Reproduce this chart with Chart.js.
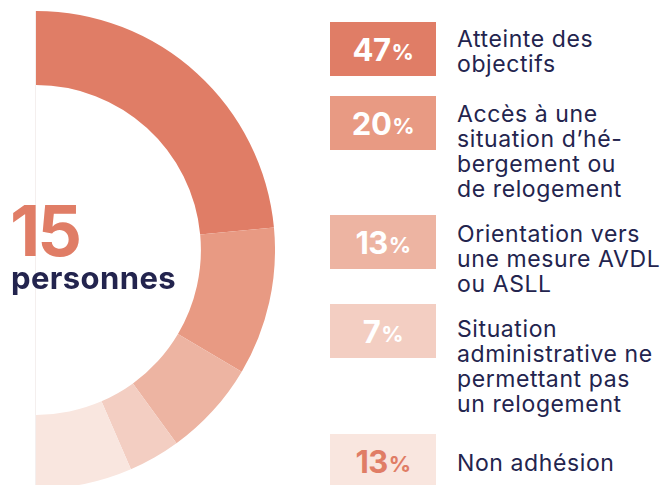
<!DOCTYPE html>
<html lang="fr">
<head>
<meta charset="utf-8">
<script src="https://cdn.jsdelivr.net/npm/chart.js@4"></script>
<style>
    html, body {
        margin: 0;
        padding: 0;
        width: 668px;
        height: 485px;
        overflow: hidden;
        background: #fff;
        font-family: Inter, "Noto Sans", sans-serif;
    }
    #wrap {
        position: absolute;
        left: 36px;
        top: 11px;
        width: 239px;
        height: 478px;
    }
    #axisLine {
        position: absolute;
        left: 35px;
        top: 11px;
        width: 1px;
        height: 474px;
        background: #f4efee;
    }
    #total {
        position: absolute;
        left: 10px;
        top: 196px;
        line-height: 1;
    }
    #total .num {
        display: block;
        font-size: 70px;
        font-weight: 700;
        color: #e07d66;
        letter-spacing: -3px;
    }
    #total .unit {
        display: block;
        margin-top: -4px;
        margin-left: 1px;
        font-size: 31px;
        font-weight: 700;
        color: #23244e;
        letter-spacing: 0.4px;
    }
    .box {
        position: absolute;
        left: 330px;
        width: 106px;
        height: 54px;
        display: flex;
        align-items: center;
        justify-content: center;
        font-weight: 700;
        font-size: 31px;
        letter-spacing: -0.5px;
    }
    .box small {
        font-size: 22px;
        margin-left: 1px;
        margin-top: 5px;
    }
    .label {
        position: absolute;
        left: 457px;
        width: 211px;
        font-size: 23px;
        line-height: 25px;
        color: #23244e;
        letter-spacing: 0.6px;
        white-space: nowrap;
    }
</style>
</head>
<body>
<div id="axisLine"></div>
<div id="wrap"><canvas id="chart"></canvas></div>
<div id="total"><span class="num"></span><span class="unit">personnes</span></div>
<div id="legend"></div>
<script>
    const totalPeople = 15;
    const categories = [
        ["Atteinte des", "objectifs"],
        ["Accès à une", "situation d’hé-", "bergement ou", "de relogement"],
        ["Orientation vers", "une mesure AVDL", "ou ASLL"],
        ["Situation", "administrative ne", "permettant pas", "un relogement"],
        ["Non adhésion"]
    ];
    const shares = [47, 20, 13, 7, 13];
    const colors = ["#e07d66", "#e89a83", "#edb4a2", "#f3cec2", "#f9e6df"];
    const boxTextColors = ["#fff", "#fff", "#fff", "#fff", "#e07d66"];

    // legend layout
    const boxTops = [22, 96, 215, 304, 434];
    const labelTops = [27, 102, 222, 317, 451];

    document.querySelector("#total .num").textContent = totalPeople;

    const legend = document.getElementById("legend");
    categories.forEach((lines, i) => {
        const box = document.createElement("div");
        box.className = "box";
        box.style.top = boxTops[i] + "px";
        box.style.background = colors[i];
        box.style.color = boxTextColors[i];
        box.innerHTML = shares[i] + "<small>%</small>";
        legend.appendChild(box);

        const label = document.createElement("div");
        label.className = "label";
        label.style.top = labelTops[i] + "px";
        label.innerHTML = lines.join("<br>");
        legend.appendChild(label);
    });

    new Chart(document.getElementById("chart"), {
        type: "doughnut",
        data: {
            labels: categories.map((lines) => lines.join(" ")),
            datasets: [{
                data: shares,
                backgroundColor: colors,
                borderWidth: 0,
                hoverOffset: 0
            }]
        },
        options: {
            responsive: true,
            maintainAspectRatio: false,
            animation: false,
            rotation: 0,
            circumference: 180,
            cutout: "69%",
            layout: { padding: 0 },
            plugins: {
                legend: { display: false },
                tooltip: { enabled: false }
            }
        }
    });
</script>
</body>
</html>
